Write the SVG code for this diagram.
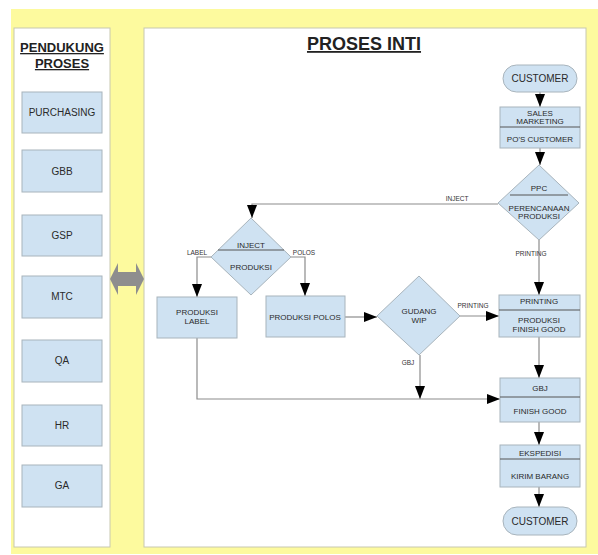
<svg xmlns="http://www.w3.org/2000/svg" width="598" height="555" viewBox="0 0 598 555">
<style>
.panel{fill:#ffffff;stroke:#c8c8b0;stroke-width:1}
.box{fill:#cfe2f2;stroke:#a8b4bc;stroke-width:1}
.div{stroke:#555;stroke-width:1}
.t{font-family:"Liberation Sans",Arial,sans-serif;fill:#2a2a2a;text-anchor:middle}
.s8{font-size:8px}
.s10{font-size:10px}
.lbl{font-family:"Liberation Sans",Arial,sans-serif;fill:#333;font-size:6.5px;text-anchor:middle}
.ln{fill:none;stroke:#8c8c8c;stroke-width:1.2}
.ttl{font-family:"Liberation Sans",Arial,sans-serif;font-weight:bold;fill:#222;text-anchor:middle;text-decoration:underline}
</style>
<defs>
<marker id="ah" viewBox="0 0 13 10" refX="13" refY="5" markerWidth="13" markerHeight="10" markerUnits="userSpaceOnUse" orient="auto">
<path d="M0,0 L13,5 L0,10 z" fill="#000"/>
</marker>
</defs>
<rect x="0" y="0" width="598" height="555" fill="#ffffff"/>
<rect x="11" y="9" width="587" height="545" fill="#fdfa9e"/>
<rect class="panel" x="14" y="28" width="96" height="519"/>
<rect class="panel" x="144" y="28" width="442" height="519"/>
<text class="ttl" x="62" y="52" font-size="13">PENDUKUNG</text>
<text class="ttl" x="62" y="68" font-size="13">PROSES</text>
<text class="ttl" x="364" y="50" font-size="18">PROSES INTI</text>
<g id="purchasing"><rect class="box" x="22" y="92" width="80" height="41"/><text class="t s10" x="62" y="116">PURCHASING</text></g>
<g id="gbb"><rect class="box" x="22" y="150" width="80" height="42"/><text class="t s10" x="62" y="175">GBB</text></g>
<g id="gsp"><rect class="box" x="22" y="215" width="80" height="41"/><text class="t s10" x="62" y="239">GSP</text></g>
<g id="mtc"><rect class="box" x="22" y="276" width="80" height="42"/><text class="t s10" x="62" y="300">MTC</text></g>
<g id="qa"><rect class="box" x="22" y="340" width="80" height="42"/><text class="t s10" x="62" y="364">QA</text></g>
<g id="hr"><rect class="box" x="22" y="405" width="80" height="41"/><text class="t s10" x="62" y="429">HR</text></g>
<g id="ga"><rect class="box" x="22" y="465" width="80" height="42"/><text class="t s10" x="62" y="489">GA</text></g>
<g id="link-arrow"><path d="M110,279 L118,263 L118,272 L136,272 L136,263 L144,279 L136,295 L136,286 L118,286 L118,295 z" fill="#8e8e8e"/></g>
<g id="connectors">
<path class="ln" d="M540,92 V107" marker-end="url(#ah)"/>
<path class="ln" d="M540,148 V165" marker-end="url(#ah)"/>
<path class="ln" d="M498,204 H252 V218" marker-end="url(#ah)"/>
<path class="ln" d="M211,257 H197 V297" marker-end="url(#ah)"/>
<path class="ln" d="M291,257 H305 V296" marker-end="url(#ah)"/>
<path class="ln" d="M345,317 H377" marker-end="url(#ah)"/>
<path class="ln" d="M460,316 H499" marker-end="url(#ah)"/>
<path class="ln" d="M539,240 V295" marker-end="url(#ah)"/>
<path class="ln" d="M539,337 V378" marker-end="url(#ah)"/>
<path class="ln" d="M420,355 V399" marker-end="url(#ah)"/>
<path class="ln" d="M197,337 V399 H500" marker-end="url(#ah)"/>
<path class="ln" d="M539,422 V445" marker-end="url(#ah)"/>
<path class="ln" d="M539,487 V507" marker-end="url(#ah)"/>
<text class="lbl" x="457" y="201">INJECT</text>
<text class="lbl" x="197" y="255">LABEL</text>
<text class="lbl" x="304" y="255">POLOS</text>
<text class="lbl" x="531" y="256">PRINTING</text>
<text class="lbl" x="473" y="308">PRINTING</text>
<text class="lbl" x="408" y="365">GBJ</text>
</g>
<g id="customer-top"><rect class="box" x="503" y="65" width="74" height="27" rx="13.5"/><text class="t s10" x="540" y="82">CUSTOMER</text></g>
<g id="sales"><rect class="box" x="500" y="107" width="80" height="41"/><line class="div" x1="500" y1="127" x2="580" y2="127"/><text class="t s8" x="540" y="116">SALES</text><text class="t s8" x="540" y="124">MARKETING</text><text class="t s8" x="540" y="142">PO'S CUSTOMER</text></g>
<g id="ppc"><path class="box" d="M539,165 L579,203 L539,240 L498,203 z"/><line class="div" x1="510" y1="195" x2="568" y2="195"/><text class="t s8" x="539" y="191">PPC</text><text class="t s8" x="539" y="211">PERENCANAAN</text><text class="t s8" x="539" y="219">PRODUKSI</text></g>
<g id="inject"><path class="box" d="M251,218 L291,257 L251,295 L211,257 z"/><line class="div" x1="218" y1="250" x2="284" y2="250"/><text class="t s8" x="251" y="248">INJECT</text><text class="t s8" x="251" y="270">PRODUKSI</text></g>
<g id="produksi-label"><rect class="box" x="157" y="297" width="80" height="41"/><text class="t s8" x="197" y="315">PRODUKSI</text><text class="t s8" x="197" y="324">LABEL</text></g>
<g id="produksi-polos"><rect class="box" x="266" y="296" width="79" height="41"/><text class="t s8" x="305" y="320">PRODUKSI POLOS</text></g>
<g id="gudang-wip"><path class="box" d="M419,276 L460,316 L419,355 L377,316 z"/><text class="t s8" x="419" y="314">GUDANG</text><text class="t s8" x="419" y="323">WIP</text></g>
<g id="printing"><rect class="box" x="499" y="295" width="81" height="42"/><line class="div" x1="499" y1="310" x2="580" y2="310"/><text class="t s8" x="539" y="304">PRINTING</text><text class="t s8" x="539" y="323">PRODUKSI</text><text class="t s8" x="539" y="332">FINISH GOOD</text></g>
<g id="gbj"><rect class="box" x="500" y="378" width="80" height="44"/><line class="div" x1="500" y1="397" x2="580" y2="397"/><text class="t s8" x="540" y="391">GBJ</text><text class="t s8" x="540" y="414">FINISH GOOD</text></g>
<g id="ekspedisi"><rect class="box" x="500" y="445" width="80" height="42"/><line class="div" x1="500" y1="459" x2="580" y2="459"/><text class="t s8" x="540" y="456">EKSPEDISI</text><text class="t s8" x="540" y="479">KIRIM BARANG</text></g>
<g id="customer-bottom"><rect class="box" x="503" y="507" width="74" height="28" rx="14"/><text class="t s10" x="540" y="525">CUSTOMER</text></g>
</svg>
